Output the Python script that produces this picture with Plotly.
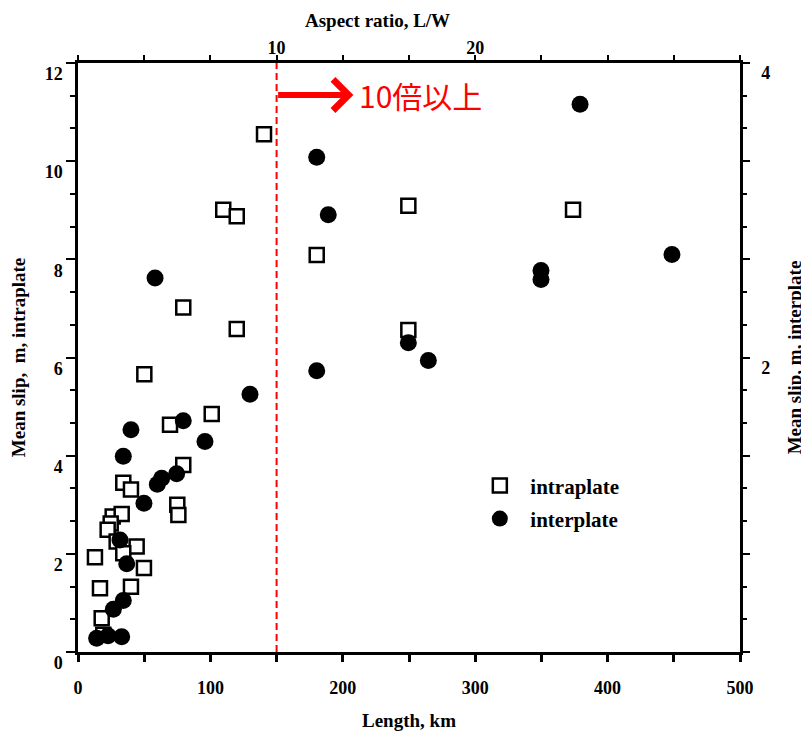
import plotly.graph_objects as go

# ---------------- data ----------------
# intraplate events: rupture length (km) and mean slip (m, left axis)
INTRA_LEN = [140.5, 109.7, 119.9, 249.5, 373.9, 180.3, 79.5, 119.9, 249.5, 50.1,
             101.0, 69.5, 79.5, 34.2, 40.0, 75.0, 75.8, 26.2, 33.0, 24.7,
             22.4, 29.2, 44.3, 12.8, 49.8, 16.6, 40.0, 17.9, 19.1, 34.2]
INTRA_SLIP = [10.55, 9.01, 8.88, 9.09, 9.01, 8.09, 7.02, 6.58, 6.56, 5.66,
              4.85, 4.63, 3.81, 3.45, 3.31, 3.00, 2.79, 2.76, 2.81, 2.62,
              2.49, 2.25, 2.15, 1.93, 1.71, 1.30, 1.33, 0.69, 0.35, 2.01]

# interplate events: rupture length (km) and mean slip (m, right axis)
INTER_LEN = [79.5, 40.0, 95.9, 34.2, 74.5, 63.2, 59.9, 49.8, 31.7, 36.8,
             34.2, 26.7, 14.1, 33.0, 22.7, 58.2, 180.3, 189.0, 249.5, 264.6,
             180.3, 129.9, 379.2, 349.7, 349.7, 448.6]
INTER_SLIP = [1.57, 1.51, 1.43, 1.33, 1.21, 1.18, 1.14, 1.01, 0.76, 0.60,
              0.35, 0.29, 0.093, 0.103, 0.11, 2.54, 3.36, 2.97, 2.10, 1.98,
              1.91, 1.75, 3.72, 2.59, 2.53, 2.70]

# axes
LEN_RANGE = [0, 500]
LEN_TICKS = [0, 100, 200, 300, 400, 500]
INTRA_RANGE = [0, 12]
INTRA_TICKS = [0, 2, 4, 6, 8, 10, 12]
INTER_RANGE = [0, 4]
INTER_TICKVALS = [0, 2/3, 4/3, 2, 8/3, 10/3, 4]
INTER_TICKTEXT = ["", "", "", "2", "", "", "4"]
WIDTH_KM = 15                      # aspect ratio L/W = length / width
ASPECT_TICKS = [10, 20]
THRESHOLD_LEN = 150                # aspect ratio 10
ARROW_TIP_LEN = 208
ARROW_Y = 11.35
LABEL_TEXT = "10倍以上"

SERIF = "Liberation Serif"
BLACK = "#000000"
RED = "#ff0000"

fig = go.Figure()

fig.add_trace(go.Scatter(
    x=INTRA_LEN, y=INTRA_SLIP, mode="markers", name="\u00a0\u00a0intraplate",
    marker=dict(symbol="square", size=14, color="white",
                line=dict(color=BLACK, width=2.5)),
    xaxis="x", yaxis="y", legend="legend", cliponaxis=False,
))
fig.add_trace(go.Scatter(
    x=INTER_LEN, y=INTER_SLIP, mode="markers", name="\u00a0\u00a0interplate",
    marker=dict(symbol="circle", size=17, color=BLACK, line=dict(width=0)),
    xaxis="x", yaxis="y2", legend="legend2", cliponaxis=False,
))
# empty trace to anchor the top aspect-ratio axis
fig.add_trace(go.Scatter(x=[], y=[], xaxis="x2", yaxis="y", showlegend=False))

tickfont = dict(family=SERIF, size=18, color=BLACK, weight="bold")
titlefont = dict(family=SERIF, size=19, color=BLACK, weight="bold")
legendfont = dict(family=SERIF, size=21, color=BLACK, weight="bold")

# the page body adds an 8 px offset, so the figure is 8 px smaller
fig.update_layout(
    width=801, height=723,
    margin=dict(l=70, r=69, t=55, b=79, pad=0, autoexpand=False),
    paper_bgcolor="white", plot_bgcolor="white",
    showlegend=True,
    xaxis=dict(
        range=LEN_RANGE, tickvals=LEN_TICKS, showgrid=False, zeroline=False,
        showline=True, linecolor=BLACK, linewidth=3, automargin=False,
        ticks="outside", ticklen=7, tickwidth=2.5, tickcolor=BLACK,
        minor=dict(dtick=50, tick0=0, ticks="outside", ticklen=7, tickwidth=2.5,
                   tickcolor=BLACK, showgrid=False),
        tickfont=tickfont, ticklabelstandoff=10,
        title=dict(text="Length, km", font=titlefont, standoff=18),
    ),
    xaxis2=dict(
        overlaying="x", side="top", anchor="y", automargin=False,
        range=[LEN_RANGE[0] / WIDTH_KM, LEN_RANGE[1] / WIDTH_KM],
        tickvals=ASPECT_TICKS, showgrid=False, zeroline=False,
        showline=True, linecolor=BLACK, linewidth=2.5,
        ticks="outside", ticklen=5, tickwidth=2, tickcolor=BLACK,
        minor=dict(dtick=50 / WIDTH_KM, tick0=0, ticks="outside", ticklen=5,
                   tickwidth=2, tickcolor=BLACK, showgrid=False),
        tickfont=tickfont, ticklabelstandoff=-6,
    ),
    yaxis=dict(
        range=INTRA_RANGE, tickvals=INTRA_TICKS, showgrid=False, zeroline=False,
        showline=True, linecolor=BLACK, linewidth=2.5, automargin=False,
        ticks="outside", ticklen=9, tickwidth=2, tickcolor=BLACK,
        minor=dict(dtick=2/3, tick0=0, ticks="outside", ticklen=5, tickwidth=2,
                   tickcolor=BLACK, showgrid=False),
        tickfont=tickfont, ticklabelshift=11, ticklabelstandoff=0,
        title=dict(text="Mean slip,\u00a0 m, intraplate", font=titlefont, standoff=16),
    ),
    yaxis2=dict(
        overlaying="y", side="right", anchor="x", automargin=False,
        range=INTER_RANGE, tickvals=INTER_TICKVALS, ticktext=INTER_TICKTEXT,
        showgrid=False, zeroline=False,
        showline=True, linecolor=BLACK, linewidth=2.5,
        ticks="outside", ticklen=7, tickwidth=2, tickcolor=BLACK,
        minor=dict(dtick=2/9, tick0=0, ticks="outside", ticklen=4, tickwidth=2,
                   tickcolor=BLACK, showgrid=False),
        tickfont=tickfont, ticklabelshift=10, ticklabelstandoff=8,
        title=dict(text="Mean slip, m, interplate", font=titlefont, standoff=19),
    ),
    legend=dict(x=0.607, y=0.282, xanchor="left", yanchor="middle",
                bgcolor="rgba(0,0,0,0)", borderwidth=0, font=legendfont),
    legend2=dict(x=0.607, y=0.226, xanchor="left", yanchor="middle",
                 bgcolor="rgba(0,0,0,0)", borderwidth=0, font=legendfont),
)

# threshold: aspect ratio 10
fig.add_shape(type="line", xref="x", yref="paper",
              x0=THRESHOLD_LEN, x1=THRESHOLD_LEN, y0=0, y1=1,
              line=dict(color=RED, width=2, dash="7px,4px"))

# arrow and label
fig.add_annotation(x=ARROW_TIP_LEN, y=ARROW_Y, xref="x", yref="y",
                   ax=THRESHOLD_LEN, ay=ARROW_Y, axref="x", ayref="y",
                   showarrow=True, arrowhead=4, arrowsize=1, arrowwidth=6,
                   arrowcolor=RED, text="")
fig.add_annotation(x=ARROW_TIP_LEN + 3, y=ARROW_Y, xref="x", yref="y",
                   xanchor="left", yanchor="middle", showarrow=False,
                   text=LABEL_TEXT,
                   font=dict(family="Noto Sans CJK JP", size=30, color=RED))

# top axis title
fig.add_annotation(x=0.453, y=1.073, xref="paper", yref="paper",
                   xanchor="center", yanchor="middle", showarrow=False,
                   text="Aspect ratio, L/W", font=titlefont)

fig.write_html("out.html")
